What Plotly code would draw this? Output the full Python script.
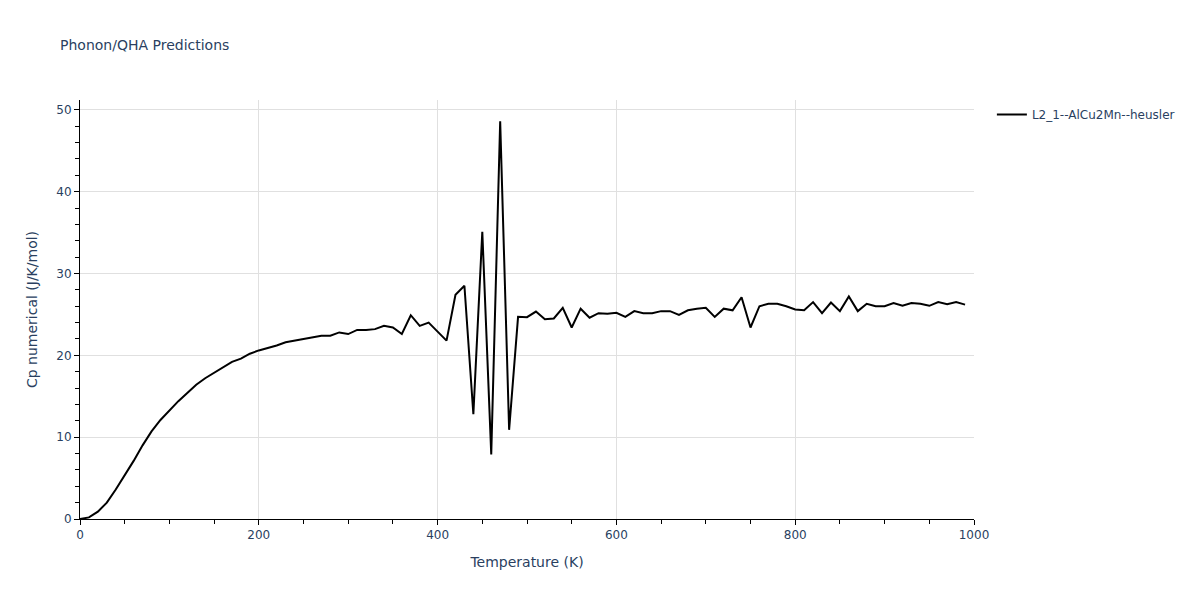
import plotly.graph_objects as go

temperature = list(range(0, 1000, 10))
cp = [
    0.0, 0.2, 0.9, 2.0, 3.6, 5.3, 7.1, 9.0, 10.7, 12.1,
    13.3, 14.4, 15.4, 16.4, 17.2, 17.9, 18.6, 19.2, 19.6, 20.2,
    20.6, 20.9, 21.2, 21.6, 21.8, 22.0, 22.2, 22.4, 22.4, 22.8,
    22.6, 23.1, 23.1, 23.2, 23.6, 23.4, 22.6, 24.9, 23.6, 24.0,
    22.9, 21.8, 27.4, 28.5, 12.8, 35.1, 7.9, 48.6, 10.9, 24.7,
    24.66, 25.35, 24.4, 24.5, 25.8, 23.4, 25.7, 24.6, 25.15, 25.07,
    25.2, 24.7, 25.4, 25.15, 25.15, 25.4, 25.4, 24.95, 25.5, 25.7,
    25.8, 24.7, 25.7, 25.5, 27.1, 23.4, 26.0, 26.3, 26.3, 26.0,
    25.6, 25.5, 26.5, 25.15, 26.45, 25.4, 27.2, 25.4, 26.3, 26.0,
    26.0, 26.4, 26.05, 26.4, 26.3, 26.05, 26.5, 26.25, 26.5, 26.2,
]
series_name = "L2_1--AlCu2Mn--heusler"

FONT = "DejaVu Sans"
TXT = "#2a3f5f"

fig = go.Figure()
fig.add_trace(go.Scatter(
    x=temperature, y=cp, mode="lines", name=series_name,
    line=dict(color="black", width=2), showlegend=True,
))

axis_common = dict(
    showline=True, linecolor="black", linewidth=1,
    ticks="outside", ticklen=5, tickcolor="black",
    showgrid=True, gridcolor="#e0e0e0", gridwidth=1,
    zeroline=False,
    tickfont=dict(family=FONT, color=TXT, size=12),
    title_font=dict(family=FONT, color=TXT, size=14),
)

W, H = 1184, 592
fig.update_layout(
    template="plotly_white",
    width=W, height=H,
    font=dict(family=FONT, color=TXT),
    title=dict(text="Phonon/QHA Predictions", x=52 / W, xanchor="left",
               y=1 - 37 / H, yanchor="middle",
               font=dict(family=FONT, size=14, color=TXT)),
    margin=dict(l=72, r=216, t=92, b=81),
    plot_bgcolor="white", paper_bgcolor="white",
    legend=dict(x=1.02, y=1.0, xanchor="left", yanchor="top",
                font=dict(family=FONT, color=TXT, size=12)),
    showlegend=True,
)
fig.update_xaxes(title_text="Temperature (K)", range=[0, 1000],
                 dtick=200, minor=dict(dtick=50, ticks="outside", ticklen=4, tickcolor="black", showgrid=False),
                 **axis_common)
fig.update_yaxes(title_text="Cp numerical (J/K/mol)", range=[0, 51.2],
                 dtick=10, minor=dict(dtick=2, ticks="outside", ticklen=4, tickcolor="black", showgrid=False),
                 **axis_common)

fig.write_html("out.html")
